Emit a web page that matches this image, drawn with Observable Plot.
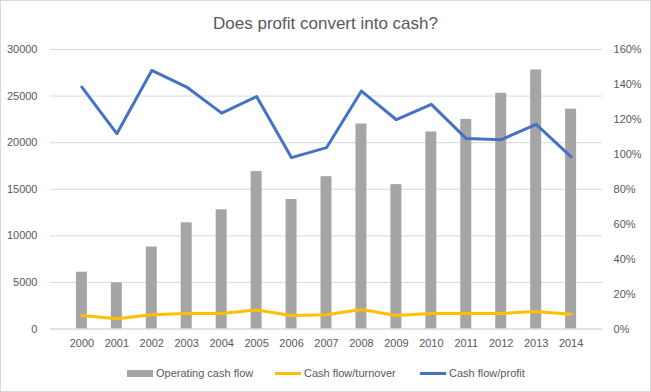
<!DOCTYPE html>
<html>
<head>
<meta charset="utf-8">
<script src="https://cdn.jsdelivr.net/npm/d3@7"></script>
<script src="https://cdn.jsdelivr.net/npm/@observablehq/plot@0.6"></script>
<style>
  html, body { margin: 0; padding: 0; background: #fff; }
  #chart { position: relative; width: 649px; height: 390px; border: 1px solid #d9d9d9; background: #fff; font-family: "Liberation Sans", Arial, sans-serif; color: #595959; overflow: hidden; }
  #title { position: absolute; left: 0; top: 13px; width: 649px; text-align: center; font-size: 17px; color: #595959; }
  #plot { position: absolute; left: -1px; top: 38px; }
  #legend { position: absolute; left: 0; top: 364px; width: 649px; height: 16px; font-size: 11px; color: #595959; }
  .item { position: absolute; top: 0; display: flex; align-items: center; height: 16px; white-space: nowrap; }
  .sw { display: inline-block; margin-right: 3px; }
</style>
</head>
<body>
<div id="chart">
  <div id="title">Does profit convert into cash?</div>
  <div id="plot"></div>
  <div id="legend"></div>
</div>
<script>
const years = ["2000","2001","2002","2003","2004","2005","2006","2007","2008","2009","2010","2011","2012","2013","2014"];
const operatingCashFlow = [6100, 4950, 8800, 11400, 12800, 16900, 13900, 16350, 22000, 15500, 21150, 22500, 25300, 27800, 23600];
const cashFlowTurnover = [7.8, 5.9, 8.2, 8.9, 8.9, 10.9, 7.8, 8.2, 11.2, 7.8, 8.9, 8.9, 8.9, 10.1, 8.4]; // percent
const cashFlowProfit = [138.5, 111.8, 148, 138.5, 123.6, 133.1, 98.1, 103.8, 136.2, 119.8, 128.6, 109, 108.4, 117.1, 98.5]; // percent
const leftTicks = [0, 5000, 10000, 15000, 20000, 25000, 30000];
const rightTicks = [0, 20, 40, 60, 80, 100, 120, 140, 160];
const seriesNames = ["Operating cash flow", "Cash flow/turnover", "Cash flow/profit"];
const colors = ["#a5a5a5", "#ffc000", "#4472c4"];

const k = 30000 / 160; // right-axis percent -> left-axis units

const rows = years.map((y, i) => ({
  year: y,
  cash: operatingCashFlow[i],
  turnover: cashFlowTurnover[i] * k,
  profit: cashFlowProfit[i] * k
}));

const chart = Plot.plot({
  width: 651,
  height: 316,
  marginLeft: 50,
  marginRight: 48,
  marginTop: 10,
  marginBottom: 26,
  style: { fontFamily: "'Liberation Sans', Arial, sans-serif", fontSize: "11px", color: "#595959", background: "transparent", overflow: "visible" },
  x: { type: "band", domain: years, padding: 0.69, label: null },
  y: { domain: [0, 30000], label: null },
  marks: [
    Plot.gridY(leftTicks, { stroke: "#d9d9d9", strokeOpacity: 1 }),
    Plot.axisY(leftTicks, { anchor: "left", tickSize: 0, tickPadding: 13, label: null, tickFormat: d => String(d), fill: "#595959" }),
    Plot.axisY(rightTicks.map(v => v * k), { anchor: "right", tickSize: 0, tickPadding: 11, label: null, textAnchor: "start", tickFormat: v => Math.round(v / k) + "%", fill: "#595959" }),
    Plot.axisX({ tickSize: 0, tickPadding: 10, label: null, fill: "#595959" }),
    Plot.barY(rows, { x: "year", y: "cash", fill: colors[0] }),
    Plot.ruleY([0], { stroke: "#d9d9d9" }),
    Plot.line(rows, { x: "year", y: "turnover", stroke: colors[1], strokeWidth: 3, strokeLinejoin: "round", strokeLinecap: "round" }),
    Plot.line(rows, { x: "year", y: "profit", stroke: colors[2], strokeWidth: 3, strokeLinejoin: "round", strokeLinecap: "round" })
  ]
});
document.getElementById("plot").appendChild(chart);

// Legend
const legend = document.getElementById("legend");
const positions = [126, 274, 419];
seriesNames.forEach((name, i) => {
  const item = document.createElement("div");
  item.className = "item";
  item.style.left = positions[i] + "px";
  const sw = document.createElement("span");
  sw.className = "sw";
  sw.style.width = "26px";
  sw.style.height = i === 0 ? "7px" : "3px";
  sw.style.background = colors[i];
  item.appendChild(sw);
  item.appendChild(document.createTextNode(name));
  legend.appendChild(item);
});
</script>
</body>
</html>
